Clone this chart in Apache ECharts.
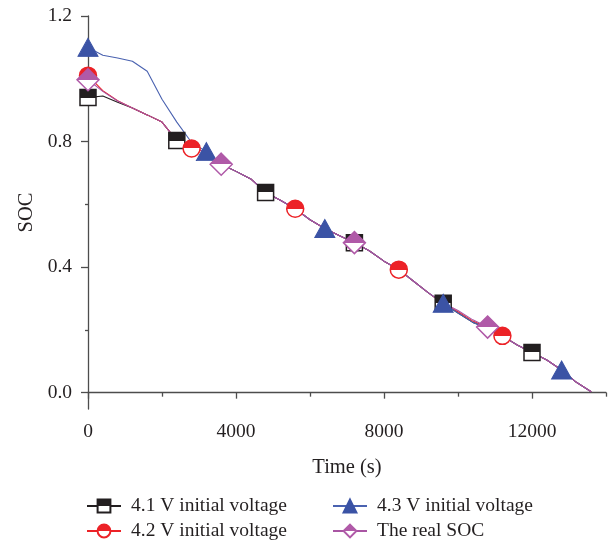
<!DOCTYPE html>
<html>
<head>
<meta charset="utf-8">
<script src="https://cdn.jsdelivr.net/npm/echarts@6/dist/echarts.min.js"></script>
<style>
  html,body{margin:0;padding:0;background:#fff;}
  #chart{width:609px;height:548px;}
</style>
</head>
<body>
<div id="chart"></div>
<script>
// time in seconds, one sample every 400 s
var timeS = [0,400,800,1200,1600,2000,2400,2800,3200,3600,4000,4400,4800,5200,5600,6000,6400,6800,
  7200,7600,8000,8400,8800,9200,9600,10000,10400,10800,11200,11600,12000,12400,12800,13200,13600];

var soc41 = [0.940,0.945,0.925,0.907,0.885,0.862,0.803,0.778,0.768,0.728,0.705,0.681,0.638,0.613,0.586,0.551,0.523,0.500,
  0.478,0.452,0.419,0.392,0.355,0.318,0.285,0.254,0.224,0.206,0.181,0.152,0.128,0.104,0.072,0.033,0.003];
var soc42 = [1.010,0.962,0.930,0.907,0.885,0.862,0.803,0.778,0.768,0.728,0.705,0.681,0.638,0.613,0.586,0.551,0.523,0.500,
  0.478,0.452,0.419,0.392,0.355,0.318,0.283,0.258,0.228,0.208,0.181,0.152,0.128,0.104,0.072,0.033,0.003];
var soc43 = [1.100,1.075,1.066,1.056,1.024,0.935,0.862,0.797,0.768,0.728,0.705,0.681,0.638,0.613,0.586,0.551,0.523,0.500,
  0.478,0.452,0.419,0.392,0.355,0.318,0.285,0.254,0.224,0.206,0.181,0.152,0.128,0.104,0.072,0.033,0.003];
var socReal = [0.997,0.960,0.929,0.907,0.885,0.862,0.803,0.778,0.768,0.728,0.705,0.681,0.638,0.613,0.586,0.551,0.523,0.500,
  0.478,0.452,0.419,0.392,0.355,0.318,0.286,0.262,0.232,0.209,0.181,0.152,0.128,0.104,0.072,0.033,0.003];

// marker every n samples
var markEvery = {s41: 6, s42: 7, s43: 8, real: 9};

var xMajor = [0,4000,8000,12000];
var xMinor = [2000,6000,10000,14000];
var yMajor = [0,0.4,0.8,1.2];
var yMinor = [0.2,0.6,1.0];

var names = ['4.1 V initial voltage','4.2 V initial voltage','4.3 V initial voltage','The real SOC'];

function halfFill(c){
  return {type:'linear',x:0,y:0,x2:0,y2:1,colorStops:[
    {offset:0,color:c},{offset:0.5,color:c},{offset:0.5,color:'#fff'},{offset:1,color:'#fff'}]};
}
function pts(vals, every){
  return timeS.map(function(t,i){
    var d = {value:[t, vals[i]]};
    if(i % every !== 0) d.symbol = 'none';
    return d;
  });
}

var axisCol = '#4d4d4d';
var txtCol = '#231f20';
var font = 'Liberation Serif, DejaVu Serif, serif';

var legendText = {fontSize:19.5,color:txtCol,fontFamily:font,padding:[0,0,0,5]};

var chart = echarts.init(document.getElementById('chart'));
chart.setOption({
  animation:false,
  textStyle:{fontFamily:font},
  grid:{left:88,right:3,top:16,bottom:139,outerBoundsMode:'none'},
  legend:[
    {orient:'vertical',left:86,top:496,padding:0,itemWidth:34,itemHeight:16,itemGap:5,
      textStyle:legendText,data:[names[0],names[1]]},
    {orient:'vertical',left:332,top:496,padding:0,itemWidth:34,itemHeight:16,itemGap:5,
      textStyle:legendText,data:[names[2],names[3]]}
  ],
  xAxis:[
    {type:'value',min:0,max:14000,position:'bottom',
      name:'Time (s)',nameLocation:'middle',nameGap:48,
      nameTextStyle:{fontSize:20.5,color:txtCol,fontFamily:font},
      axisLine:{show:true,lineStyle:{color:axisCol,width:1.3}},
      axisTick:{show:true,length:6,customValues:xMajor,lineStyle:{color:axisCol,width:1.3}},
      axisLabel:{customValues:xMajor,margin:13,fontSize:19.5,color:txtCol,fontFamily:font,
        formatter:function(v){return String(v);}},
      splitLine:{show:false}},
    {type:'value',min:0,max:14000,position:'bottom',
      axisLine:{show:false},
      axisTick:{show:true,length:4,customValues:xMinor,lineStyle:{color:axisCol,width:1.3}},
      axisLabel:{show:false},splitLine:{show:false}}
  ],
  yAxis:[
    {type:'value',min:-0.052,max:1.2,position:'left',
      name:'SOC',nameLocation:'middle',nameGap:50,
      nameTextStyle:{fontSize:20.5,color:txtCol,fontFamily:font},
      axisLine:{show:true,lineStyle:{color:axisCol,width:1.3}},
      axisTick:{show:true,length:7,customValues:yMajor,lineStyle:{color:axisCol,width:1.3}},
      axisLabel:{customValues:yMajor,margin:16,fontSize:19.5,color:txtCol,fontFamily:font,
        formatter:function(v){return v.toFixed(1);}},
      splitLine:{show:false}},
    {type:'value',min:-0.052,max:1.2,position:'left',
      axisLine:{show:false},
      axisTick:{show:true,length:3,customValues:yMinor,lineStyle:{color:axisCol,width:1.3}},
      axisLabel:{show:false},splitLine:{show:false}}
  ],
  series:[
    {name:names[0],type:'line',data:pts(soc41,markEvery.s41),showAllSymbol:true,
      symbol:'rect',symbolSize:16,
      lineStyle:{color:'#231f20',width:1.1},
      itemStyle:{color:halfFill('#231f20'),borderColor:'#231f20',borderWidth:1.5}},
    {name:names[1],type:'line',data:pts(soc42,markEvery.s42),showAllSymbol:true,
      symbol:'circle',symbolSize:17,
      lineStyle:{color:'#ec2227',width:1.1},
      itemStyle:{color:halfFill('#ec2227'),borderColor:'#ec2227',borderWidth:1.5}},
    {name:names[2],type:'line',data:pts(soc43,markEvery.s43),showAllSymbol:true,
      symbol:'triangle',symbolSize:[20,18],
      lineStyle:{color:'#4a62b0',width:1.1},
      itemStyle:{color:'#3b53a5',borderColor:'#3b53a5',borderWidth:1}},
    {name:names[3],type:'line',data:pts(socReal,markEvery.real),showAllSymbol:true,
      symbol:'diamond',symbolSize:22,
      lineStyle:{color:'#a955a3',width:1.1},
      itemStyle:{color:halfFill('#b05aa8'),borderColor:'#b05aa8',borderWidth:1.5}}
  ]
});
</script>
</body>
</html>
